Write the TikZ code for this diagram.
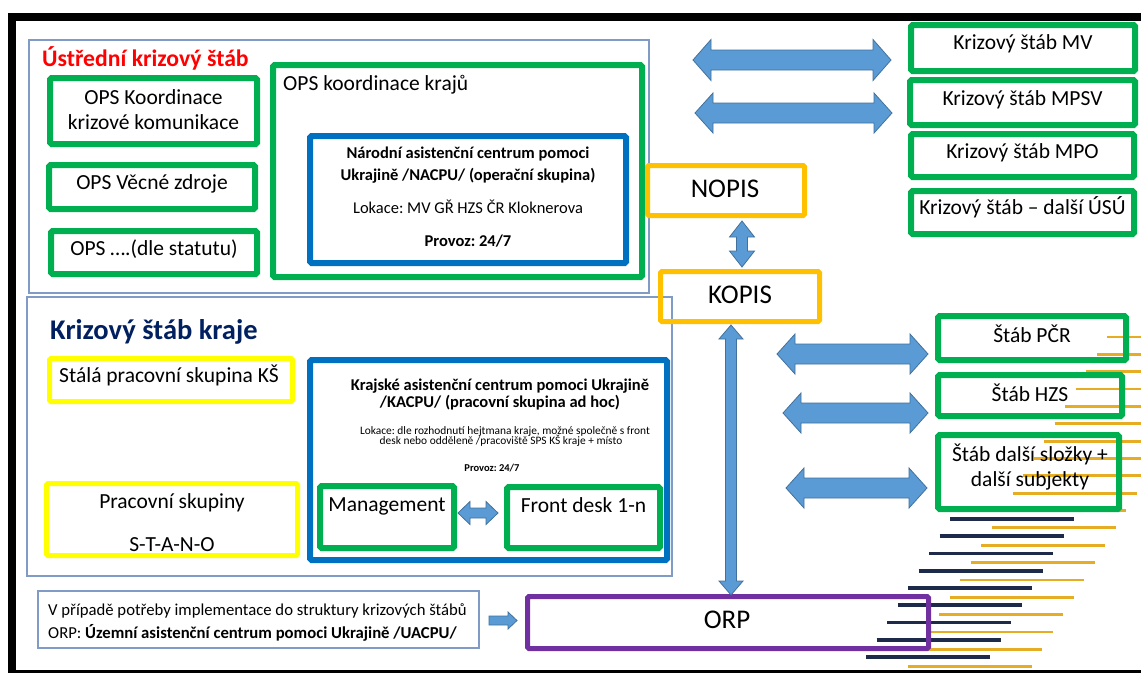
\documentclass[tikz,border=0pt]{standalone}
\usepackage{fontspec}
\setmainfont{Carlito}
\frenchspacing
\usetikzlibrary{fit}
\definecolor{cgreen}{HTML}{00B050}
\definecolor{cblue}{HTML}{0070C0}
\definecolor{cyellow}{HTML}{FFFF00}
\definecolor{corange}{HTML}{FFC000}
\definecolor{cpurple}{HTML}{7030A0}
\definecolor{cred}{HTML}{FF0000}
\definecolor{cnavy}{HTML}{002060}
\definecolor{cthin}{HTML}{7F9BC6}
\definecolor{afill}{HTML}{5B9BD5}
\definecolor{aline}{HTML}{41719C}
\definecolor{cgold}{HTML}{E5AC24}
\definecolor{cdark}{HTML}{1E2A4A}
\tikzset{
  box/.style={inner sep=0pt, outer sep=0pt},
  gbox/.style={box, draw=cgreen, line width=6, rounded corners=1.5},
  bbox/.style={box, draw=cblue, line width=6, rounded corners=1.5},
  ybox/.style={box, draw=cyellow, line width=5, rounded corners=1.5},
  obox/.style={box, draw=corange, line width=5, rounded corners=1.5},
  pbox/.style={box, draw=cpurple, line width=5, rounded corners=1.5},
  tbox/.style={box, draw=cthin, line width=1.2},
  barrow/.style={fill=afill, draw=aline, line width=0.8, line join=miter},
  goldline/.style={draw=cgold, line width=2.8},
  darkline/.style={draw=cdark, line width=3.6},
  tx/.style={inner sep=0pt, anchor=base, font=\fontsize{21.5}{25}\selectfont},
  big/.style={inner sep=0pt, anchor=base, font=\fontsize{27}{32}\selectfont},
  mid/.style={inner sep=0pt, anchor=base, font=\fontsize{16.5}{19}\selectfont},
  midb/.style={inner sep=0pt, anchor=base, font=\fontsize{16.5}{19}\selectfont\bfseries},
  small/.style={inner sep=0pt, anchor=base, font=\fontsize{11.4}{13}\selectfont},
  smallb/.style={inner sep=0pt, anchor=base, font=\fontsize{10.5}{13}\selectfont\bfseries},
}
% horizontal double block arrow: x1, x2, y, head half height, shaft half height, head length
\newcommand{\hdarrow}[6]{%
  \draw[barrow] (#1,#3) -- (#1+#6,#3-#4) -- (#1+#6,#3-#5) -- (#2-#6,#3-#5) -- (#2-#6,#3-#4)
    -- (#2,#3) -- (#2-#6,#3+#4) -- (#2-#6,#3+#5) -- (#1+#6,#3+#5) -- (#1+#6,#3+#4) -- cycle;}
% vertical double block arrow: x, y1, y2, head half width, shaft half width, head length
\newcommand{\vdarrow}[6]{%
  \draw[barrow] (#1,#2) -- (#1+#4,#2+#6) -- (#1+#5,#2+#6) -- (#1+#5,#3-#6) -- (#1+#4,#3-#6)
    -- (#1,#3) -- (#1-#4,#3-#6) -- (#1-#5,#3-#6) -- (#1-#5,#2+#6) -- (#1-#4,#2+#6) -- cycle;}
\begin{document}
\begin{tikzpicture}[x=1pt,y=-1pt]
\useasboundingbox (0,0) rectangle (1141,673);
\fill[white] (0,0) rectangle (1141,673);
% black frame
\fill[black] (8,13) rectangle (1141,21);
\fill[black] (8,13) rectangle (16,673);
\fill[black] (8,670) rectangle (1141,673);

% decorative stripes
\foreach \i in {0,...,19}{
  \pgfmathsetmacro\yy{337+17.35*\i}
  \pgfmathsetmacro\xl{1107-10.5*\i}
  \pgfmathsetmacro\xr{min(1141,\xl+124)}
  \draw[goldline] (\xl,\yy) -- (\xr,\yy);
}
\foreach \j in {0,...,8}{
  \pgfmathsetmacro\yy{519+17.25*\j}
  \pgfmathsetmacro\xl{950-10.5*\j}
  \pgfmathsetmacro\xr{\xl+124}
  \draw[darkline] (\xl,\yy) -- (\xr,\yy);
}

% thin frames
\node[tbox, fit={(29,40) (649,293)}] (ust) {};
\node[tbox, fit={(27,297) (672,576)}] (kraj) {};
\node[tbox, fit={(38,591) (479,648)}] (note) {};

% upper left
\node[gbox, fit={(50,78) (257,144)}] (ops1) {};
\node[gbox, fit={(49,165) (255,209)}] (ops2) {};
\node[gbox, fit={(51,231) (257,274)}] (ops3) {};
\node[gbox, fit={(273,65) (642,277)}] (opsk) {};
\node[bbox, fit={(310,136) (626,263)}] (nacpu) {};

% right upper
\node[gbox, fit={(911,25) (1135,71)}] (mv) {};
\node[gbox, fit={(910,80) (1135,125)}] (mpsv) {};
\node[gbox, fit={(911,134) (1134,177)}] (mpo) {};
\node[gbox, fit={(911,191) (1134,234)}] (usu) {};

% centre
\node[obox, fit={(647.5,165.5) (804.5,215.5)}] (nopis) {};
\node[obox, fit={(660.5,271.5) (819.5,321.5)}] (kopis) {};
\node[pbox, fit={(527.5,596.5) (928.5,648.5)}] (orp) {};

% lower left
\node[ybox, fit={(49.5,358.5) (292.5,401.5)}] (stala) {};
\node[ybox, fit={(46.5,483.5) (297.5,555.5)}] (prac) {};
\node[bbox, fit={(310,360) (667,560)}] (kacpu) {};
\node[gbox, fit={(320,486) (454,548)}] (man) {};
\node[gbox, fit={(507,487) (660,548)}] (front) {};

% right lower
\node[gbox, fit={(938,316) (1126,360)}] (pcr) {};
\node[gbox, fit={(938,375) (1122,416)}] (hzs) {};
\node[gbox, fit={(938,435) (1119,509)}] (dalsi) {};

% texts
\node[inner sep=0pt, anchor=base west, text=cred, font=\fontsize{23.7}{28}\selectfont\bfseries] (t-ust) at (42,66) {Ústřední krizový štáb};
\node[tx] (t-ops1a) at (153.5,104) {OPS Koordinace};
\node[tx] (t-ops1b) at (153.5,129) {krizové komunikace};
\node[tx] (t-ops2) at (152,189) {OPS Věcné zdroje};
\node[tx] (t-ops3) at (154,255) {OPS ….(dle statutu)};
\node[tx, anchor=base west] (t-opsk) at (283,90) {OPS koordinace krajů};
\node[midb] (t-na1) at (468,158) {Národní asistenční centrum pomoci};
\node[midb] (t-na2) at (468,180) {Ukrajině /NACPU/ (operační skupina)};
\node[mid] (t-na3) at (468,213) {Lokace: MV GŘ HZS ČR Kloknerova};
\node[midb] (t-na4) at (468,246) {Provoz: 24/7};

\node[tx] (t-mv) at (1023,49) {Krizový štáb MV};
\node[tx] (t-mpsv) at (1022.5,105) {Krizový štáb MPSV};
\node[tx] (t-mpo) at (1022.5,158) {Krizový štáb MPO};
\node[tx] (t-usu) at (1022.5,214) {Krizový štáb – další ÚSÚ};

\node[big] (t-nopis) at (725,197) {NOPIS};
\node[big] (t-kopis) at (740,303) {KOPIS};
\node[big] (t-orp) at (727,628) {ORP};

\node[inner sep=0pt, anchor=base west, text=cnavy, font=\fontsize{28.5}{32}\selectfont\bfseries] (t-kraj) at (50,339) {Krizový štáb kraje};
\node[tx] (t-stala) at (169,382) {Stálá pracovní skupina KŠ};
\node[tx] (t-prac1) at (172,508) {Pracovní skupiny};
\node[tx] (t-prac2) at (172,551) {S-T-A-N-O};
\node[midb] (t-ka1) at (500,390) {Krajské asistenční centrum pomoci Ukrajině};
\node[midb] (t-ka2) at (500,407) {/KACPU/ (pracovní skupina ad hoc)};
\node[small] (t-ka3) at (505,434) {Lokace: dle rozhodnutí hejtmana kraje, možné společně s front};
\node[small] (t-ka4) at (501,444) {desk nebo odděleně /pracoviště SPS KŠ kraje + místo};
\node[smallb] (t-ka5) at (492,471) {Provoz: 24/7};
\node[tx] (t-man) at (387,511) {Management};
\node[tx] (t-front) at (583.5,512) {Front desk 1-n};

\node[tx] (t-pcr) at (1032,342) {Štáb PČR};
\node[tx] (t-hzs) at (1030,401) {Štáb HZS};
\node[tx] (t-d1) at (1030,461) {Štáb další složky +};
\node[tx] (t-d2) at (1030,486) {další subjekty};

\node[inner sep=0pt, anchor=base west, font=\fontsize{16.7}{19}\selectfont] (t-n1) at (48,615) {V případě potřeby implementace do struktury krizových štábů};
\node[inner sep=0pt, anchor=base west, font=\fontsize{16.7}{19}\selectfont] (t-n2) at (48,638) {ORP: \textbf{Územní asistenční centrum pomoci Ukrajině /UACPU/}};

% block arrows
\hdarrow{693}{891}{60}{20.5}{10}{18}
\hdarrow{695}{892}{113}{20}{10}{18}
\vdarrow{742}{221}{267}{12.5}{5.5}{16}
\vdarrow{731}{325}{595}{12}{5.5}{14}
\hdarrow{777}{928}{354}{20}{10}{18}
\hdarrow{783}{928}{413}{20}{10}{18}
\hdarrow{786}{927}{488}{20}{10}{18}
\hdarrow{458}{498}{513}{11.5}{5}{12}
\draw[barrow] (489,616) -- (508,616) -- (508,612) -- (517,620.5) -- (508,629) -- (508,625) -- (489,625) -- cycle;
\end{tikzpicture}
\end{document}
